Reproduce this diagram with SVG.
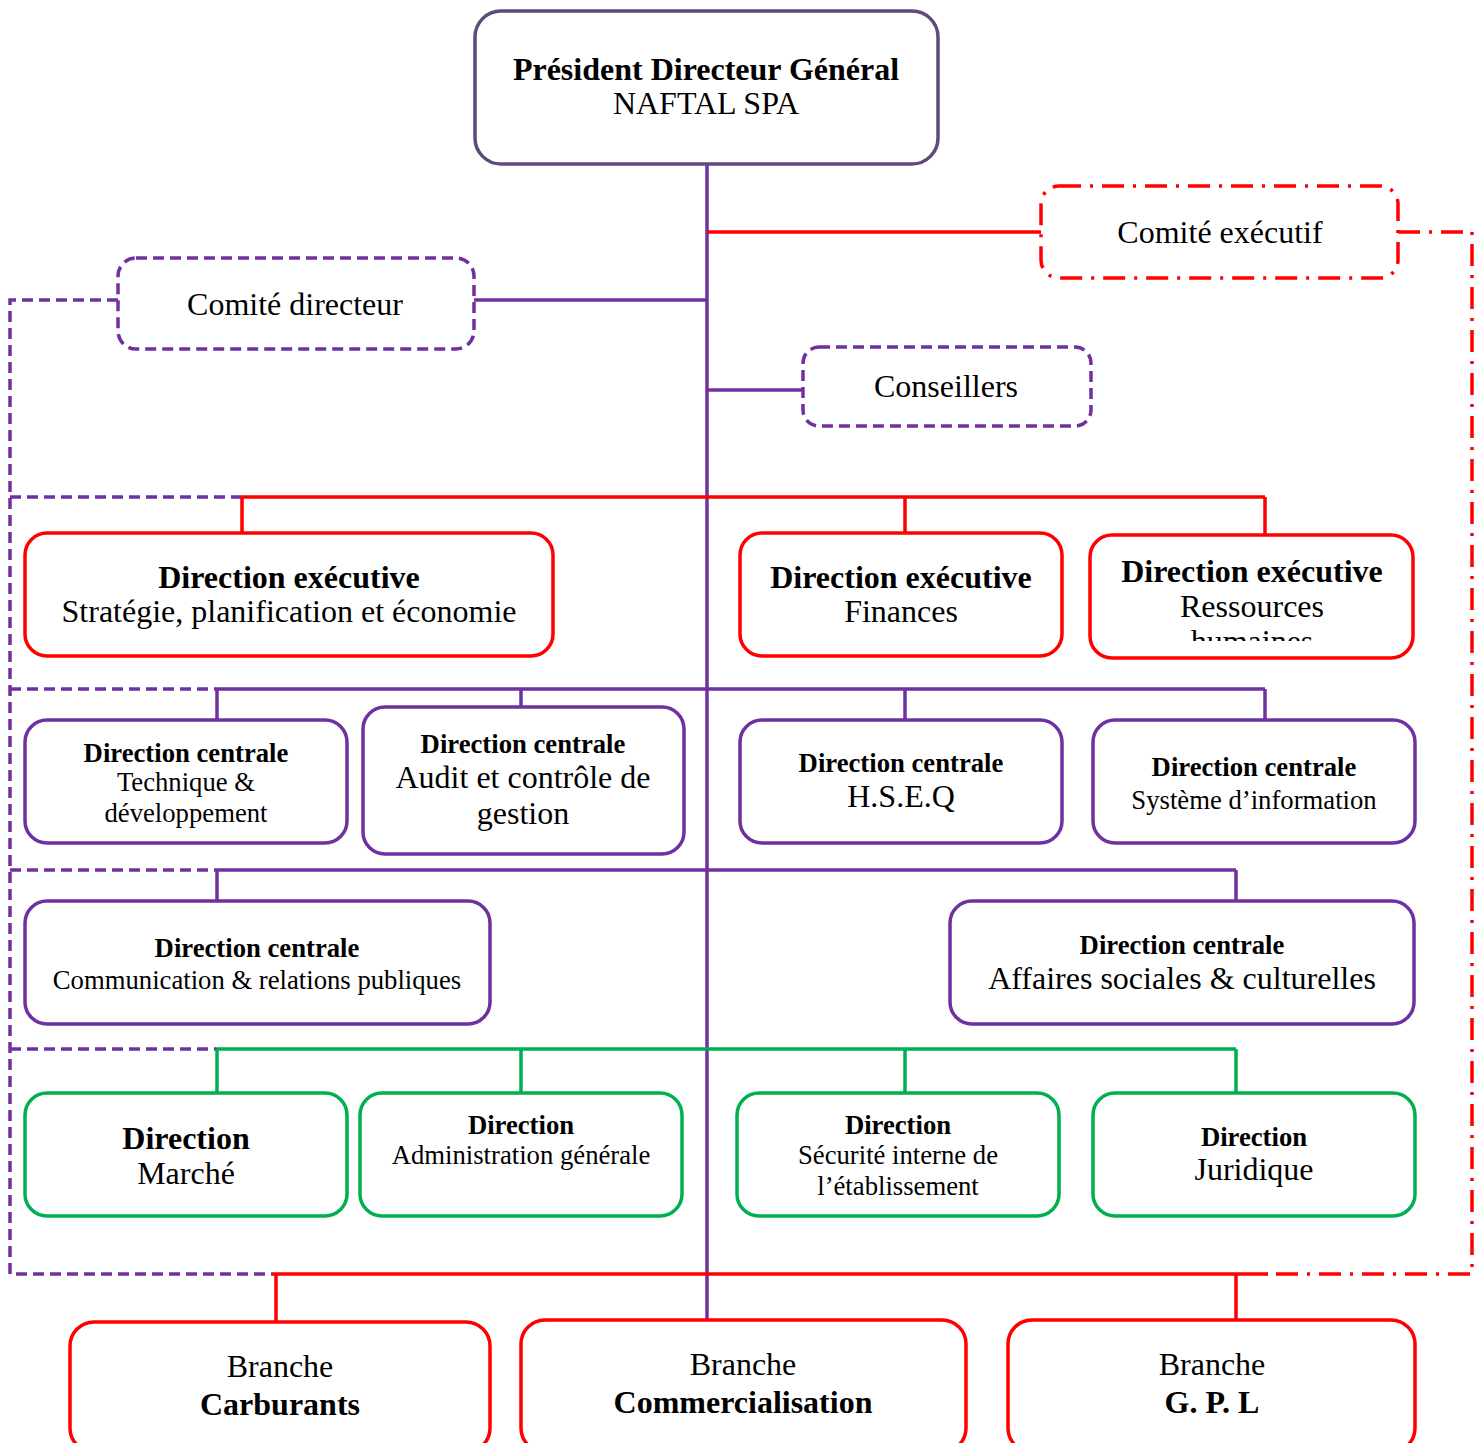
<svg xmlns="http://www.w3.org/2000/svg" width="1479" height="1443" viewBox="0 0 1479 1443">
  <defs>
    <style>
      .t { font-family: "Liberation Serif", "Times New Roman", serif; fill: #000; text-anchor: middle; }
      .b { font-weight: bold; }
      .L { font-size: 32px; }
      .S { font-size: 26.7px; }
      .box { fill: #fff; stroke-width: 3.5; }
      .red { stroke: #ff0000; }
      .pur { stroke: #7030a0; }
      .grn { stroke: #00b050; }
      .top { stroke: #604a7b; }
      .dash { stroke-dasharray: 11 6; }
      .dashdot { stroke-dasharray: 22 9 3 9; }
      .ln { fill: none; stroke-width: 3.5; }
    </style>
    <clipPath id="clipRH">
      <rect x="1090" y="535" width="323" height="106"/>
    </clipPath>
  </defs>
  <rect width="1479" height="1443" fill="#fff"/>

  <g id="connectors">
    <!-- left dashed purple return -->
    <path class="ln pur dash" d="M118 300 H10 V1274 H272"/>
    <path class="ln pur dash" d="M10 497 H242 M10 689 H217 M10 870 H217 M10 1049 H217"/>
    <!-- right dash-dot red return -->
    <path class="ln red dashdot" d="M1398 232 H1472 V1274 H1266"/>
    <!-- PDG trunk -->
    <line class="ln pur" x1="707" y1="164" x2="707" y2="1321"/>
    <!-- committees -->
    <line class="ln red" x1="707" y1="232" x2="1041" y2="232"/>
    <line class="ln pur" x1="474" y1="300" x2="707" y2="300"/>
    <line class="ln pur" x1="707" y1="390" x2="803" y2="390"/>
    <!-- executive directions -->
    <path class="ln red" d="M242 497 H1265 M242 497 V533 M905 497 V533 M1265 497 V535"/>
    <!-- central directions row 1 -->
    <path class="ln pur" d="M217 689 H1265 M217 689 V720 M521 689 V720 M905 689 V720 M1265 689 V720"/>
    <!-- central directions row 2 -->
    <path class="ln pur" d="M217 870 H1236 M217 870 V901 M1236 870 V901"/>
    <!-- directions -->
    <path class="ln grn" d="M217 1049 H1236 M217 1049 V1093 M521 1049 V1093 M905 1049 V1093 M1236 1049 V1093"/>
    <!-- branches -->
    <path class="ln red" d="M272 1274 H1268 M276 1274 V1322 M1236 1274 V1320"/>
  </g>

  <g id="pdg">
    <rect class="box top" x="475" y="11" width="463" height="153" rx="26"/>
    <text class="t b L" x="706" y="80">Président Directeur Général</text>
    <text class="t L" x="706" y="114">NAFTAL SPA</text>
  </g>

  <g id="comite-executif">
    <rect class="box red dashdot" x="1041" y="186" width="357" height="92" rx="18"/>
    <text class="t L" x="1220" y="243">Comité exécutif</text>
  </g>

  <g id="comite-directeur">
    <rect class="box pur dash" x="118" y="258" width="356" height="91" rx="18"/>
    <text class="t L" x="295" y="315">Comité directeur</text>
  </g>

  <g id="conseillers">
    <rect class="box pur dash" x="803" y="347" width="288" height="79" rx="16"/>
    <text class="t L" x="946" y="397">Conseillers</text>
  </g>

  <g id="de-strategie">
    <rect class="box red" x="25" y="533" width="528" height="123" rx="22"/>
    <text class="t b L" x="289" y="588">Direction exécutive</text>
    <text class="t L" x="289" y="622">Stratégie, planification et économie</text>
  </g>

  <g id="de-finances">
    <rect class="box red" x="740" y="533" width="322" height="123" rx="22"/>
    <text class="t b L" x="901" y="588">Direction exécutive</text>
    <text class="t L" x="901" y="622">Finances</text>
  </g>

  <g id="de-rh">
    <rect class="box red" x="1090" y="535" width="323" height="123" rx="22"/>
    <text class="t b L" x="1252" y="582">Direction exécutive</text>
    <g clip-path="url(#clipRH)">
      <text class="t L" x="1252" y="617">Ressources</text>
      <text class="t L" x="1252" y="652">humaines</text>
    </g>
  </g>

  <g id="dc-technique">
    <rect class="box pur" x="25" y="720" width="322" height="123" rx="22"/>
    <text class="t b S" x="186" y="762">Direction centrale</text>
    <text class="t S" x="186" y="791">Technique &amp;</text>
    <text class="t S" x="186" y="822">développement</text>
  </g>

  <g id="dc-audit">
    <rect class="box pur" x="363" y="707" width="321" height="147" rx="22"/>
    <text class="t b S" x="523" y="753">Direction centrale</text>
    <text class="t L" x="523" y="788">Audit et contrôle de</text>
    <text class="t L" x="523" y="824">gestion</text>
  </g>

  <g id="dc-hseq">
    <rect class="box pur" x="740" y="720" width="322" height="123" rx="22"/>
    <text class="t b S" x="901" y="772">Direction centrale</text>
    <text class="t L" x="901" y="807">H.S.E.Q</text>
  </g>

  <g id="dc-si">
    <rect class="box pur" x="1093" y="720" width="322" height="123" rx="22"/>
    <text class="t b S" x="1254" y="776">Direction centrale</text>
    <text class="t S" x="1254" y="809">Système d’information</text>
  </g>

  <g id="dc-communication">
    <rect class="box pur" x="25" y="901" width="465" height="123" rx="22"/>
    <text class="t b S" x="257" y="957">Direction centrale</text>
    <text class="t S" x="257" y="989">Communication &amp; relations publiques</text>
  </g>

  <g id="dc-affaires-sociales">
    <rect class="box pur" x="950" y="901" width="464" height="123" rx="22"/>
    <text class="t b S" x="1182" y="954">Direction centrale</text>
    <text class="t L" x="1182" y="989">Affaires sociales &amp; culturelles</text>
  </g>

  <g id="d-marche">
    <rect class="box grn" x="25" y="1093" width="322" height="123" rx="22"/>
    <text class="t b L" x="186" y="1149">Direction</text>
    <text class="t L" x="186" y="1184">Marché</text>
  </g>

  <g id="d-administration">
    <rect class="box grn" x="360" y="1093" width="322" height="123" rx="22"/>
    <text class="t b S" x="521" y="1134">Direction</text>
    <text class="t S" x="521" y="1164">Administration générale</text>
  </g>

  <g id="d-securite">
    <rect class="box grn" x="737" y="1093" width="322" height="123" rx="22"/>
    <text class="t b S" x="898" y="1134">Direction</text>
    <text class="t S" x="898" y="1164">Sécurité interne de</text>
    <text class="t S" x="898" y="1195">l’établissement</text>
  </g>

  <g id="d-juridique">
    <rect class="box grn" x="1093" y="1093" width="322" height="123" rx="22"/>
    <text class="t b S" x="1254" y="1146">Direction</text>
    <text class="t L" x="1254" y="1180">Juridique</text>
  </g>

  <g id="branche-carburants">
    <rect class="box red" x="70" y="1322" width="420" height="130" rx="24"/>
    <text class="t L" x="280" y="1377">Branche</text>
    <text class="t b L" x="280" y="1415">Carburants</text>
  </g>

  <g id="branche-commercialisation">
    <rect class="box red" x="521" y="1320" width="445" height="132" rx="24"/>
    <text class="t L" x="743" y="1375">Branche</text>
    <text class="t b L" x="743" y="1413">Commercialisation</text>
  </g>

  <g id="branche-gpl">
    <rect class="box red" x="1008" y="1320" width="407" height="132" rx="24"/>
    <text class="t L" x="1212" y="1375">Branche</text>
    <text class="t b L" x="1212" y="1413">G. P. L</text>
  </g>
</svg>
